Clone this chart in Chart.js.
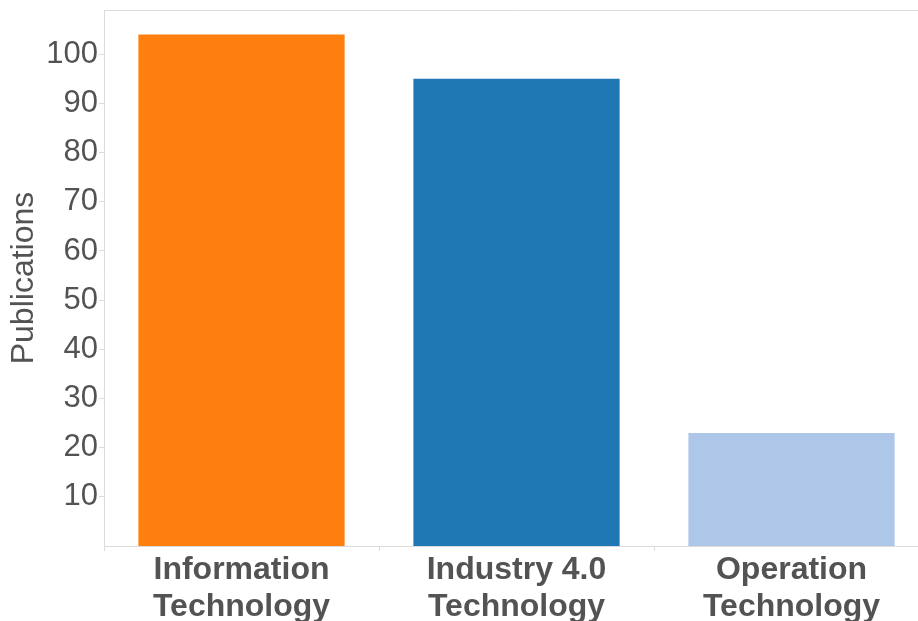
<!DOCTYPE html>
<html>
<head>
<meta charset="utf-8">
<script src="https://cdn.jsdelivr.net/npm/chart.js@4"></script>
<style>
  html, body { margin: 0; padding: 0; background: #fff; overflow: hidden; }
  #wrap { position: relative; width: 930px; height: 621px; }
</style>
</head>
<body>
<div id="wrap"><canvas id="pubChart"></canvas></div>
<script>
const categories = [
    ['Information', 'Technology'],
    ['Industry 4.0', 'Technology'],
    ['Operation', 'Technology']
];
const publications = [104, 95, 23];
const barColors = ['#ff7f0e', '#1f77b4', '#aec7e8'];
const yTickValues = [10, 20, 30, 40, 50, 60, 70, 80, 90, 100];

const axisGray = '#dcdcdc';
const textGray = '#535353';

// frame line around the plot area (top edge and right edge)
const frame = {
    id: 'frame',
    afterDraw(chart) {
        const a = chart.chartArea;
        const c = chart.ctx;
        c.save();
        c.strokeStyle = axisGray;
        c.lineWidth = 1;
        c.beginPath();
        c.moveTo(a.left, a.top + 0.5);
        c.lineTo(a.right, a.top + 0.5);
        c.lineTo(a.right - 0.5, a.bottom);
        c.stroke();
        c.restore();
    }
};

const ctx = document.getElementById('pubChart').getContext('2d');
const pubChart = new Chart(ctx, {
    type: 'bar',
    data: {
        labels: categories,
        datasets: [{
            label: 'Publications',
            data: publications,
            backgroundColor: barColors,
            borderWidth: 0,
            barPercentage: 0.75,
            categoryPercentage: 1
        }]
    },
    options: {
        responsive: true,
        maintainAspectRatio: false,
        animation: false,
        layout: { padding: { top: 10, right: 1, bottom: 0, left: 0 } },
        plugins: {
            legend: { display: false },
            tooltip: { enabled: false }
        },
        scales: {
            x: {
                grid: {
                    display: true,
                    drawOnChartArea: false,
                    color: axisGray,
                    tickLength: 5
                },
                border: { color: axisGray },
                ticks: {
                    color: textGray,
                    padding: 0,
                    maxRotation: 0,
                    autoSkip: false,
                    font: { family: 'Liberation Sans, Arial, sans-serif', size: 32, weight: 'bold', lineHeight: 1.18 }
                },
                afterFit: s => { s.height = 75; s.paddingLeft = 0; s.paddingRight = 0; }
            },
            y: {
                min: 0,
                max: 109,
                grid: {
                    display: true,
                    drawOnChartArea: false,
                    color: axisGray,
                    tickLength: 5
                },
                border: { color: axisGray },
                ticks: {
                    color: textGray,
                    padding: 1,
                    font: { family: 'Liberation Sans, Arial, sans-serif', size: 31 }
                },
                afterBuildTicks: s => { s.ticks = yTickValues.map(v => ({ value: v })); },
                title: {
                    display: true,
                    text: 'Publications',
                    color: textGray,
                    padding: { top: 5, bottom: 0 },
                    font: { family: 'Liberation Sans, Arial, sans-serif', size: 32 }
                },
                afterFit: s => { s.width = 104; s.paddingTop = 0; s.paddingBottom = 0; }
            }
        }
    },
    plugins: [frame]
});
</script>
</body>
</html>
